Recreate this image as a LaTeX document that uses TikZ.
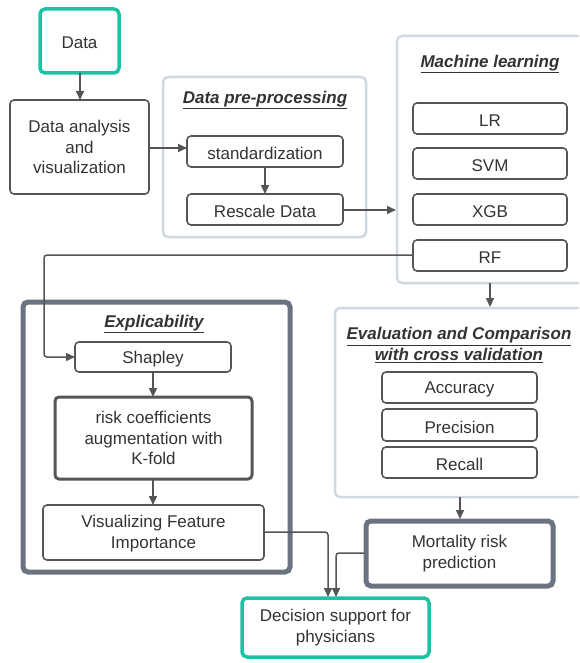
\documentclass[tikz,border=0pt]{standalone}
\usepackage{fontspec}
\setmainfont{Liberation Sans}
\usetikzlibrary{arrows.meta}
\definecolor{teal1}{HTML}{1DC2A4}
\definecolor{dk}{HTML}{555555}
\definecolor{slate}{HTML}{6B7280}
\definecolor{lite}{HTML}{D2D8E0}
\definecolor{txt}{HTML}{333333}
\tikzset{
  every node/.style={font=\fontsize{17}{20.5}\selectfont, text=txt, align=center},
  one/.style={yshift=-2pt},
  box/.style={draw=dk, line width=1.6pt, rounded corners=4pt},
  thickbox/.style={draw=dk, line width=3pt, rounded corners=4pt},
  heavy/.style={draw=slate, line width=5pt, rounded corners=5pt},
  tealbox/.style={draw=teal1, line width=3.5pt, rounded corners=5pt},
  group/.style={draw=lite, line width=2.5pt, rounded corners=5pt},
  conn/.style={draw=dk, line width=1.5pt, rounded corners=3pt, -{Triangle[length=9pt,width=8pt]}},
  ttl/.style={font=\fontsize{17}{20.5}\selectfont\bfseries\itshape}
}
\begin{document}
\begin{tikzpicture}[x=1pt,y=-1pt]
\useasboundingbox (0,0) rectangle (579,663);
\clip (0,0) rectangle (579,663);
% containers
\draw[group] (163,77) rectangle (366,237);
\draw[group] (397,36) rectangle (600,283);
\draw[group] (335,308) rectangle (600,497);
\draw[heavy] (23,302) rectangle (290,572);
% titles
\node[ttl,one] (tpre) at (265,98) {\underline{Data pre-processing}};
\node[ttl,one] (tml) at (490,62) {\underline{Machine learning}};
\node[ttl] (tev) at (459,345) {\underline{Evaluation and Comparison}\\\underline{with cross validation}};
\node[ttl,one] (tex) at (154,322) {\underline{Explicability}};
% nodes
\draw[tealbox] (40,9) rectangle (119,73);
\node[one] (data) at (79.5,41) {Data};
\coordinate (dataS) at (80,73);
\draw[box] (10,100) rectangle (149,194);
\node (ana) at (79.5,147) {Data analysis\\and\\visualization};
\coordinate (anaN) at (80,100);
\coordinate (anaE) at (149,148);
\draw[box] (187,136) rectangle (343,167);
\node[one] (std) at (265,151.5) {standardization};
\coordinate (stdW) at (187,148);
\coordinate (stdS) at (265,167);
\draw[box] (187,194) rectangle (343,225);
\node[one] (res) at (265,209.5) {Rescale Data};
\coordinate (resN) at (265,194);
\coordinate (resE) at (343,210);
\coordinate (mlW) at (396,210);
\draw[box] (413,103) rectangle (567,134);
\node[one] (lr) at (490,118.5) {LR};
\draw[box] (413,148) rectangle (567,179);
\node[one] (svm) at (490,163.5) {SVM};
\draw[box] (413,194) rectangle (567,225);
\node[one] (xgb) at (490,209.5) {XGB};
\draw[box] (413,240) rectangle (567,271);
\node[one] (rf) at (490,255.5) {RF};
\coordinate (rfW) at (413,255);
\coordinate (mlS) at (490,283);
\coordinate (evN) at (490,307);
\draw[box] (75,342) rectangle (231,372);
\node[one] (shap) at (153,357) {Shapley};
\coordinate (shapW) at (75,357);
\coordinate (shapS) at (153,372);
\draw[thickbox] (55,397) rectangle (252,479);
\node (risk) at (153.5,438) {risk coefficients\\augmentation with\\K-fold};
\coordinate (riskN) at (153,397);
\coordinate (riskS) at (153,479);
\draw[box] (43,505) rectangle (264,560);
\node[yshift=-1pt] (vis) at (153.5,532.5) {Visualizing Feature\\Importance};
\coordinate (visN) at (153,505);
\coordinate (visE) at (264,532);
\draw[box] (382,372) rectangle (537,403);
\node[one] (acc) at (459.5,387.5) {Accuracy};
\draw[box] (382,409) rectangle (537,441);
\node[one] (pre) at (459.5,425) {Precision};
\draw[box] (382,447) rectangle (537,478);
\node[one] (rec) at (459.5,462.5) {Recall};
\coordinate (evS) at (460,497);
\draw[heavy] (366,521) rectangle (553,586);
\node (mort) at (459.5,553.5) {Mortality risk\\prediction};
\coordinate (mortN) at (460,519);
\coordinate (mortW) at (364,553);
\draw[tealbox] (242,598) rectangle (429,657);
\node (dec) at (335.5,627.5) {Decision support for\\physicians};
\coordinate (decA) at (328,597);
\coordinate (decB) at (336,597);
% connectors
\draw[conn] (dataS) -- (anaN);
\draw[conn] (anaE) -- (stdW);
\draw[conn] (stdS) -- (resN);
\draw[conn] (resE) -- (mlW);
\draw[conn] (rfW) -- (44,255) -- (44,357) -- (shapW);
\draw[conn] (mlS) -- (evN);
\draw[conn] (shapS) -- (riskN);
\draw[conn] (riskS) -- (visN);
\draw[conn] (evS) -- (mortN);
\draw[conn] (visE) -- (328,532) -- (decA);
\draw[conn] (mortW) -- (336,553) -- (decB);
\end{tikzpicture}
\end{document}
